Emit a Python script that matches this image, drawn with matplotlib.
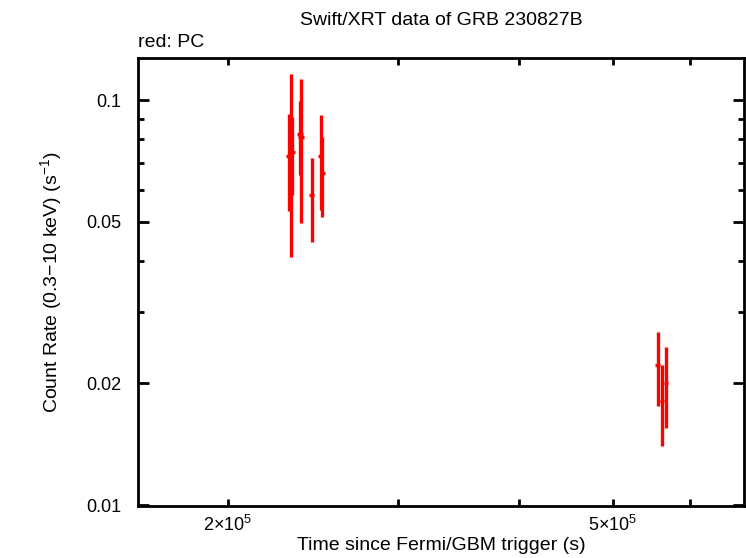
import numpy as np
import matplotlib
matplotlib.use("Agg")
import matplotlib.pyplot as plt
from matplotlib.ticker import FixedLocator, NullFormatter

plt.rcParams['font.family'] = ['Liberation Sans', 'DejaVu Sans']
plt.rcParams['mathtext.fontset'] = 'custom'
plt.rcParams['mathtext.rm'] = 'Liberation Sans'
plt.rcParams['mathtext.it'] = 'Liberation Sans:italic'

# PC mode light curve (time since trigger in s, rate in counts/s)
t_pc = [2.321e5, 2.313e5, 2.329e5, 2.380e5, 2.374e5, 2.440e5, 2.493e5, 2.502e5,
        5.562e5, 5.616e5, 5.670e5]
t_err = [1500, 1500, 1500, 1500, 1500, 1500, 1500, 1500, 3000, 3000, 3000]
rate_pc = [0.0784, 0.0728, 0.0746, 0.0812, 0.0824, 0.0583, 0.0727, 0.0662,
           0.0222, 0.0181, 0.0200]
rate_err = [0.0375, 0.0196, 0.0163, 0.0315, 0.0171, 0.0137, 0.0192, 0.0148,
            0.0046, 0.0041, 0.0045]

y_ticks = [0.01, 0.02, 0.05, 0.1]
y_labels = ["0.01", "0.02", "0.05", "0.1"]
x_ticks = [2e5, 5e5]
x_labels = [r"$\mathregular{2{\times}10^5}$", r"$\mathregular{5{\times}10^5}$"]

fig = plt.figure(figsize=(7.46, 5.58), dpi=100)
ax = fig.add_axes([0.185, 0.093, 0.8123, 0.803])

ax.errorbar(t_pc, rate_pc, xerr=t_err, yerr=rate_err, fmt='none',
            ecolor='red', elinewidth=2.4, capsize=0)

ax.set_xscale('log')
ax.set_yscale('log')
ax.set_xlim(1.614e5, 6.83e5)
ax.set_ylim(0.00994, 0.127)

ax.xaxis.set_major_locator(FixedLocator(x_ticks))
ax.set_xticklabels(x_labels)
ax.xaxis.set_minor_locator(FixedLocator([3e5, 4e5, 6e5]))
ax.xaxis.set_minor_formatter(NullFormatter())
ax.yaxis.set_major_locator(FixedLocator(y_ticks))
ax.set_yticklabels(y_labels)
ax.yaxis.set_minor_locator(FixedLocator([0.03, 0.04, 0.06, 0.07, 0.08, 0.09]))
ax.yaxis.set_minor_formatter(NullFormatter())

for s in ax.spines.values():
    s.set_linewidth(2)
ax.tick_params(which='both', direction='in', top=True, right=True,
               width=2, labelsize=13)
ax.tick_params(axis='y', which='major', length=8, pad=12)
ax.tick_params(axis='y', which='minor', length=4.5)
ax.tick_params(axis='x', which='both', length=5, pad=6)

# x label placed in figure coords so it stays inside the canvas
fig.text(0.591, 0.022, "Time since Fermi/GBM trigger (s)", fontsize=14,
         ha='center', va='center')
ax.set_ylabel(r"Count Rate (0.3$-$10 keV) (s$^{-1}$)", fontsize=14, labelpad=16)
ax.set_title("Swift/XRT data of GRB 230827B", fontsize=14, pad=24)
ax.text(0.0, 1.016, "red: PC", transform=ax.transAxes, fontsize=14,
        ha='left', va='bottom')

fig.savefig("out.png", dpi=100)
